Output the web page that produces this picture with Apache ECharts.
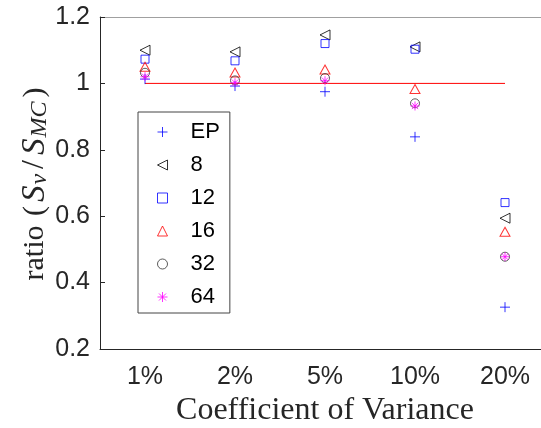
<!DOCTYPE html>
<html>
<head>
<meta charset="utf-8">
<script src="https://cdn.jsdelivr.net/npm/echarts@6/dist/echarts.min.js"></script>
<style>
html,body{margin:0;padding:0;background:#fff;}
#chart{width:541px;height:428px;}
</style>
</head>
<body>
<div id="chart"></div>
<script>
const categories = ['1%', '2%', '5%', '10%', '20%'];
const seriesNames = ['EP', '8', '12', '16', '32', '64'];
const epValues  = [1.013, 0.992, 0.975, 0.839, 0.326];
const m8Values  = [1.100, 1.095, 1.146, 1.110, 0.594];
const m12Values = [1.073, 1.068, 1.120, 1.103, 0.641];
const m16Values = [1.050, 1.033, 1.042, 0.983, 0.553];
const m32Values = [1.032, 1.009, 1.016, 0.940, 0.478];
const m64Values = [1.020, 1.002, 1.008, 0.932, 0.478];
const refValues = [1, 1, 1, 1, 1];
const yTicks = { min: 0.2, max: 1.2, interval: 0.2 };

const sans = 'Liberation Sans, Arial, sans-serif';
const serif = 'Liberation Serif, Times New Roman, serif';

function sc(name, values, symbol, size, color) {
  return {
    name: name, type: 'scatter', data: values,
    symbol: symbol, symbolSize: size,
    itemStyle: { color: 'transparent', borderColor: color, borderWidth: 1 },
    emphasis: { disabled: true }
  };
}

const chart = echarts.init(document.getElementById('chart'), null, { renderer: 'canvas' });
chart.setOption({
  animation: false,
  backgroundColor: '#fff',
  grid: { left: 100, top: 17, right: -9, bottom: 79, containLabel: false, outerBoundsMode: 'none' },
  legend: {
    data: seriesNames,
    orient: 'vertical',
    left: 138, top: 112,
    itemWidth: 10, itemHeight: 10,
    itemGap: 11,
    padding: [9, 10, 5, 19],
    borderColor: '#444', borderWidth: 1, backgroundColor: '#fff',
    itemStyle: { borderWidth: 1 },
    textStyle: { fontFamily: sans, fontSize: 22, lineHeight: 22, color: '#000', padding: [0, 0, 0, 18] },
    selectedMode: false
  },
  xAxis: [{
    type: 'category', data: categories, position: 'bottom', boundaryGap: true,
    axisLine: { lineStyle: { color: '#262626', width: 1 } },
    axisTick: { inside: true, alignWithLabel: true, length: 5, lineStyle: { color: '#262626' } },
    axisLabel: { fontFamily: sans, fontSize: 25, color: '#262626', margin: 16 },
    name: 'Coefficient of Variance', nameLocation: 'middle', nameGap: 46, nameMoveOverlap: false,
    nameTextStyle: { fontFamily: serif, fontSize: 32, color: '#262626' },
    splitLine: { show: false }
  }, {
    type: 'category', data: categories, position: 'top', boundaryGap: true,
    axisLine: { lineStyle: { color: '#a0a0a0', width: 1 } },
    axisTick: { inside: true, alignWithLabel: true, length: 5, lineStyle: { color: '#262626' } },
    axisLabel: { show: false },
    splitLine: { show: false }
  }],
  yAxis: {
    type: 'value', min: yTicks.min, max: yTicks.max, interval: yTicks.interval,
    axisLine: { show: true, lineStyle: { color: '#262626', width: 1 } },
    axisTick: { show: true, inside: true, length: 5, lineStyle: { color: '#262626' } },
    axisLabel: { fontFamily: sans, fontSize: 25, color: '#262626', margin: 10,
      formatter: function (v) { return String(+v.toFixed(1)); } },
    splitLine: { show: false },
    name: '{r|ratio }{p|(}{i|S}{s|v}{d|/}{i|S}{s|MC}{p|)}',
    nameLocation: 'middle', nameRotate: 90, nameGap: 48, nameMoveOverlap: false,
    nameTextStyle: {
      rich: {
        r: { fontFamily: serif, fontSize: 30, lineHeight: 34, color: '#262626' },
        p: { fontFamily: serif, fontSize: 30, lineHeight: 34, color: '#262626', padding: [0, 2, 0, 2] },
        d: { fontFamily: serif, fontSize: 32, lineHeight: 34, color: '#262626', padding: [0, 3, 0, 3] },
        i: { fontFamily: serif, fontStyle: 'italic', fontSize: 33, lineHeight: 34, color: '#262626', padding: [0, 1, 0, 2] },
        s: { fontFamily: serif, fontStyle: 'italic', fontSize: 24, lineHeight: 20, verticalAlign: 'bottom', color: '#262626', padding: [0, 2, 0, 0] }
      }
    }
  },
  series: [
    {
      name: 'ref', type: 'line', data: refValues, symbol: 'none', silent: true,
      lineStyle: { color: '#ff0000', width: 1 }, z: 1
    },
    sc('EP', epValues, 'path://M5,0L5,10M0,5L10,5', 10, '#0000ff'),
    sc('8', m8Values, 'path://M10,0L0,5L10,10Z', [10, 10], '#000000'),
    sc('12', m12Values, 'rect', 8, '#0000ff'),
    sc('16', m16Values, 'triangle', [10, 9], '#ff0000'),
    sc('32', m32Values, 'circle', 9, '#333333'),
    sc('64', m64Values, 'path://M5,0L5,10M0,5L10,5M1.5,1.5L8.5,8.5M8.5,1.5L1.5,8.5', 9, '#ff00ff')
  ]
});
</script>
</body>
</html>
